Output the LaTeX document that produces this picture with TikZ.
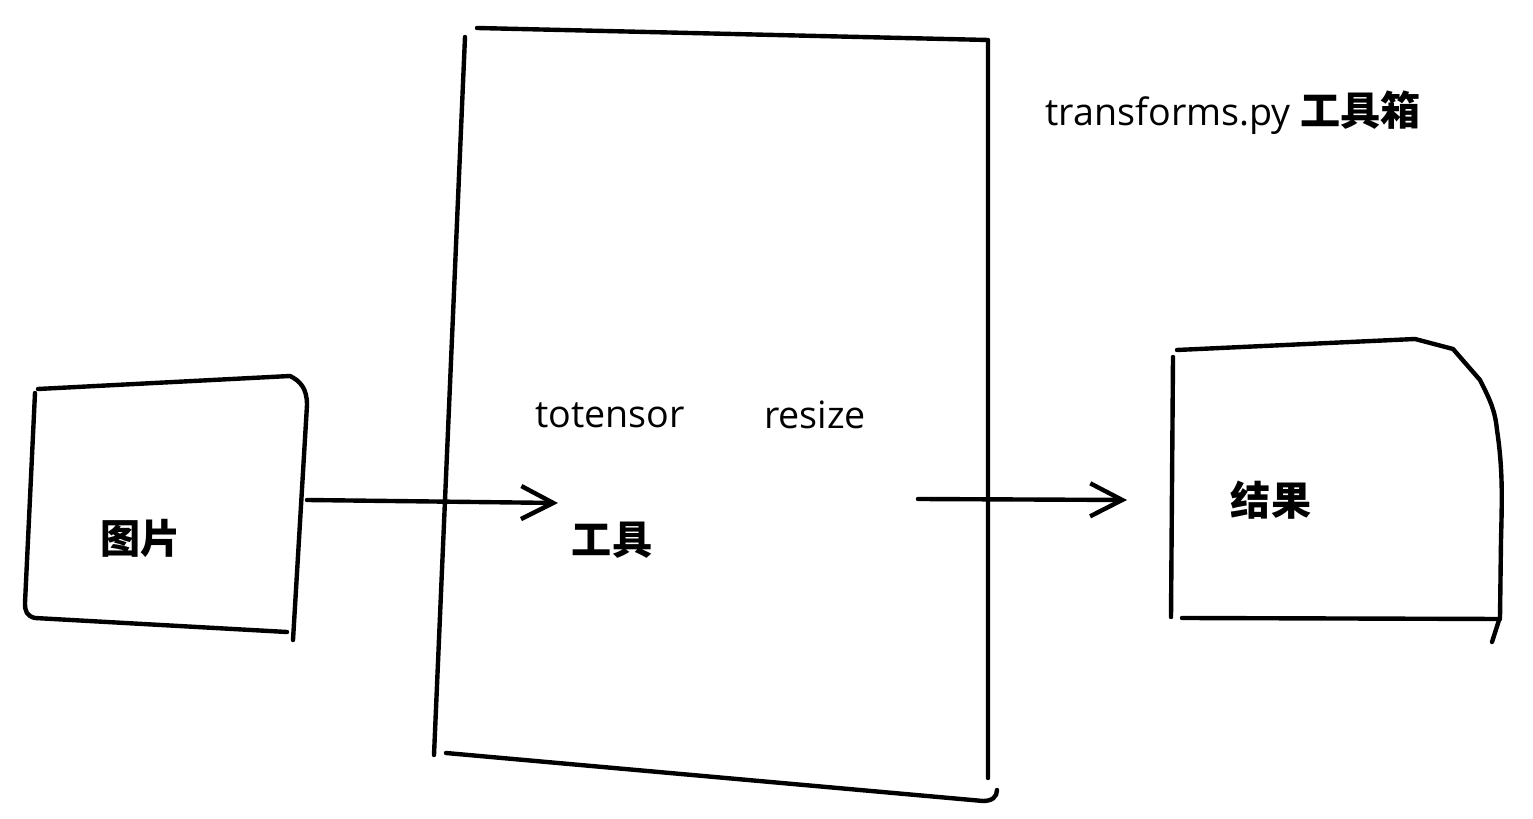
\documentclass[tikz,border=0pt]{standalone}
\usepackage{fontspec}
\setmainfont{Open Sans}
\newfontfamily\cjk{Noto Sans CJK SC}
\usetikzlibrary{arrows.meta}

\begin{document}
\begin{tikzpicture}[x=0.01cm,y=-0.01cm,
  pen/.style={line width=1.25pt,line cap=round,line join=round},
  flow/.style={pen,-{Straight Barb[length=3.2mm,width=3.3mm,line width=1.25pt]}},
  hand/.style={font=\fontsize{10.7}{12}\selectfont,inner sep=0pt},
  label/.style={font=\cjk\bfseries\fontsize{11.4}{13}\selectfont,inner sep=0pt}]
  \useasboundingbox (0,0) rectangle (1533,819);

  % Image sheet
  \draw[pen] (38,389) -- (290,376) .. controls (300,381) and (307,388) .. (307,405) -- (293,640);
  \draw[pen] (35,393) -- (25,603) .. controls (25,612) and (27,616) .. (35,618) -- (287,632);
  \node[label] (img) at (141,538) {图片};

  % Toolbox
  \draw[pen] (477,28) -- (988,40) -- (988,778);
  \draw[pen] (465,37) -- (434,755);
  \draw[pen] (446,753) -- (983,801) .. controls (992,801) and (997,797) .. (997,790);
  \node[hand,anchor=west] (title) at (1045,113) {transforms.py {\cjk\bfseries\fontsize{11.4}{13}\selectfont 工具箱}};
  \node[hand] (totensor) at (610,415) {totensor};
  \node[hand] (resize) at (815,415) {resize};
  \node[label] (tool) at (612,540) {工具};

  % Result sheet
  \draw[pen] (1177,350) -- (1415,339) -- (1453,349) -- (1480,380)
    .. controls (1490,400) and (1495,410) .. (1497,430)
    .. controls (1503,470) and (1502,500) .. (1501,540) -- (1500,617) -- (1492,642);
  \draw[pen] (1173,357) -- (1171,617);
  \draw[pen] (1182,618) -- (1500,619);
  \node[label] (res) at (1271,500) {结果};

  % Flow
  \coordinate (imgR) at (307,500);
  \coordinate (toolIn) at (558,503);
  \coordinate (toolOut) at (918,499);
  \coordinate (resIn) at (1127,500);
  \draw[flow] (imgR) -- (toolIn);
  \draw[flow] (toolOut) -- (resIn);
\end{tikzpicture}
\end{document}
